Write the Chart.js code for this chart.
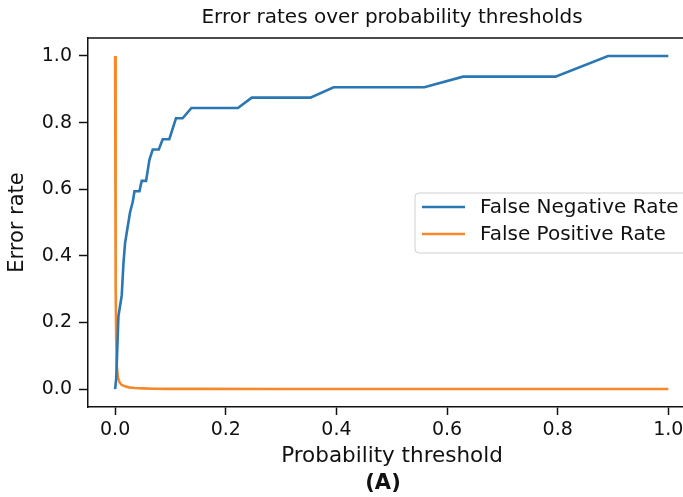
<!DOCTYPE html>
<html>
<head>
<meta charset="utf-8">
<script src="https://cdn.jsdelivr.net/npm/chart.js@4.4.1/dist/chart.umd.min.js"></script>
<style>
  html, body { margin: 0; padding: 0; background: #fff; overflow: hidden; }
  canvas { display: block; }
</style>
</head>
<body>
<canvas id="errChart" width="720" height="497"></canvas>
<script>
// пороги и ошибки
const fnrX = [0, 0.002, 0.004, 0.006, 0.009, 0.012, 0.015, 0.018, 0.021, 0.027, 0.032, 0.035, 0.044, 0.048, 0.056, 0.062, 0.068, 0.079, 0.086, 0.098, 0.110, 0.122, 0.138, 0.222, 0.247, 0.353, 0.395, 0.559, 0.629, 0.796, 0.891, 1.0];
const fnrY = [0, 0.031, 0.125, 0.219, 0.25, 0.281, 0.375, 0.438, 0.469, 0.531, 0.563, 0.594, 0.594, 0.625, 0.625, 0.688, 0.719, 0.719, 0.75, 0.75, 0.813, 0.813, 0.844, 0.844, 0.875, 0.875, 0.906, 0.906, 0.938, 0.938, 1.0, 1.0];
const fprX = [0, 0.0005, 0.001, 0.0015, 0.002, 0.003, 0.005, 0.008, 0.012, 0.018, 0.025, 0.035, 0.05, 0.07, 0.1, 0.15, 0.3, 0.5, 0.7, 1.0];
const fprY = [1.0, 0.75, 0.5, 0.3, 0.15, 0.07, 0.035, 0.02, 0.012, 0.008, 0.005, 0.003, 0.002, 0.001, 0.0005, 0.0003, 0.0001, 0, 0, 0];
const xTicks = [0, 0.2, 0.4, 0.6, 0.8, 1.0];
const yTicks = [0, 0.2, 0.4, 0.6, 0.8, 1.0];
const seriesNames = ['False Negative Rate', 'False Positive Rate'];

const FONT = 'DejaVu Sans';

const pts = (xs, ys) => xs.map((x, i) => ({ x: x, y: ys[i] }));

// подписи, легенда и верхняя рамка
const extras = {
  id: 'extras',
  afterDraw(chart) {
    const { ctx, chartArea: a } = chart;
    ctx.save();
    // верхняя рамка
    ctx.strokeStyle = '#111';
    ctx.lineWidth = 1.5;
    ctx.beginPath();
    ctx.moveTo(a.left, a.top);
    ctx.lineTo(a.right, a.top);
    ctx.stroke();

    ctx.fillStyle = '#111';
    ctx.textAlign = 'center';
    ctx.textBaseline = 'middle';
    const cx = (a.left + a.right) / 2;
    ctx.font = '20px "' + FONT + '"';
    ctx.fillText('Error rates over probability thresholds', cx, 18);
    ctx.font = 'bold 21px "' + FONT + '"';
    ctx.fillText('(A)', 383, 484);

    // легенда
    const bx = 415, by = 193, bw = 280, bh = 60;
    ctx.fillStyle = 'rgba(255,255,255,0.85)';
    ctx.strokeStyle = '#d0d0d0';
    ctx.lineWidth = 1;
    ctx.beginPath();
    ctx.roundRect(bx, by, bw, bh, 4);
    ctx.fill();
    ctx.stroke();
    ctx.font = '20px "' + FONT + '"';
    ctx.textAlign = 'left';
    chart.data.datasets.forEach((ds, i) => {
      const ly = 207 + i * 27;
      ctx.strokeStyle = ds.borderColor;
      ctx.lineWidth = 2.5;
      ctx.beginPath();
      ctx.moveTo(422, ly);
      ctx.lineTo(465, ly);
      ctx.stroke();
      ctx.fillStyle = '#111';
      ctx.fillText(ds.label, 480, ly + 1);
    });
    ctx.restore();
  }
};

const ctx = document.getElementById('errChart');
new Chart(ctx.getContext('2d'), {
  type: 'line',
  data: {
    datasets: [
      { label: seriesNames[0], data: pts(fnrX, fnrY), borderColor: '#2a77b4', borderWidth: 2.6, pointRadius: 0, tension: 0, fill: false },
      { label: seriesNames[1], data: pts(fprX, fprY), borderColor: '#f5892a', borderWidth: 2.6, pointRadius: 0, tension: 0, fill: false }
    ]
  },
  options: {
    responsive: false,
    animation: false,
    layout: { padding: { top: 38, right: 24, left: 0, bottom: 0 } },
    plugins: { legend: { display: false }, tooltip: { enabled: false } },
    scales: {
      x: {
        type: 'linear',
        min: -0.049,
        max: 1.05,
        afterBuildTicks: s => { s.ticks = xTicks.map(v => ({ value: v })); },
        afterFit: s => { s.height = 90; },
        grid: { drawOnChartArea: false, drawTicks: true, tickLength: 8, tickWidth: 1.5, tickColor: '#111' },
        border: { color: '#111', width: 1.5 },
        ticks: { color: '#111', padding: 4, maxRotation: 0, font: { family: FONT, size: 19 }, callback: v => v.toFixed(1) },
        title: { display: true, text: 'Probability threshold', color: '#111', font: { family: FONT, size: 21.5 }, padding: { top: 0, bottom: 28 } }
      },
      y: {
        min: -0.054,
        max: 1.054,
        afterBuildTicks: s => { s.ticks = yTicks.map(v => ({ value: v })); },
        afterFit: s => { s.width = 88; },
        grid: { drawOnChartArea: false, drawTicks: true, tickLength: 9, tickWidth: 1.5, tickColor: '#111' },
        border: { color: '#111', width: 1.5 },
        ticks: { color: '#111', padding: 7, font: { family: FONT, size: 19 }, callback: v => v.toFixed(1) },
        title: { display: true, text: 'Error rate', color: '#111', font: { family: FONT, size: 21 }, padding: { top: 5, bottom: 0 } }
      }
    }
  },
  plugins: [extras]
});
</script>
</body>
</html>
